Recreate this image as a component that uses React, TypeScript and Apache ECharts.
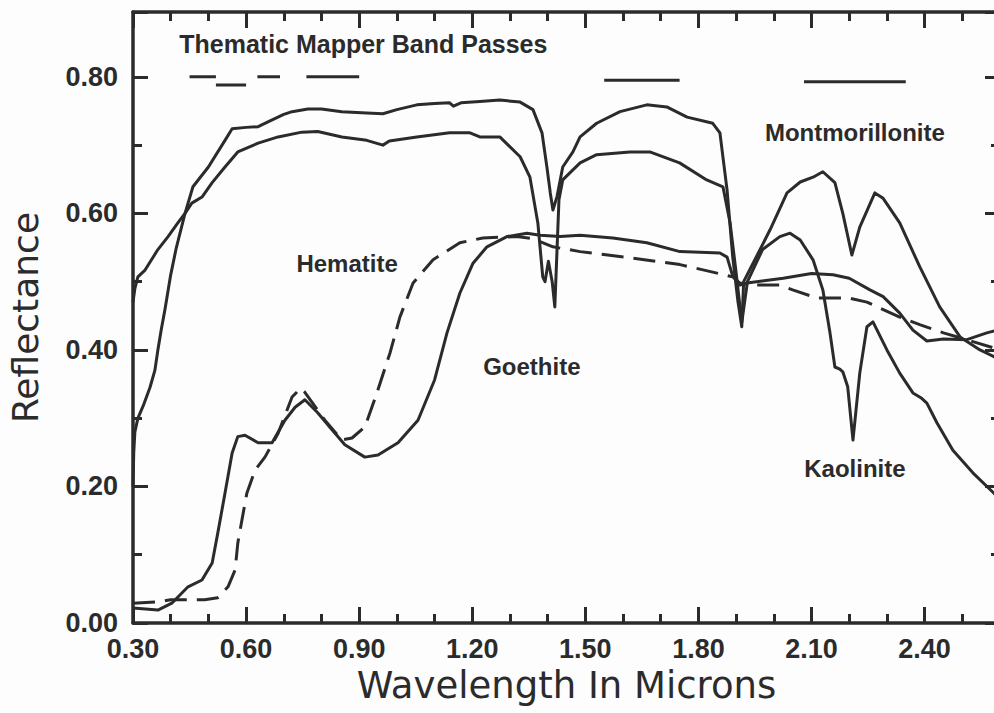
import React, { useEffect, useRef } from 'react';
import * as echarts from 'echarts';

// ---- data (wavelength in microns, reflectance) ----
const montX = [0.30, 0.302, 0.305, 0.313, 0.327, 0.345, 0.358, 0.366, 0.375, 0.385, 0.40, 0.415, 0.438, 0.459, 0.50, 0.544, 0.563, 0.60, 0.632, 0.658, 0.70, 0.722, 0.764, 0.80, 0.854, 0.92, 0.963, 1.00, 1.053, 1.10, 1.14, 1.15, 1.17, 1.22, 1.273, 1.327, 1.361, 1.385, 1.398, 1.407, 1.414, 1.425, 1.44, 1.467, 1.486, 1.53, 1.592, 1.663, 1.716, 1.77, 1.838, 1.857, 1.876, 1.891, 1.905, 1.915, 1.92, 1.945, 1.99, 2.035, 2.07, 2.104, 2.13, 2.162, 2.183, 2.207, 2.228, 2.268, 2.29, 2.334, 2.387, 2.44, 2.494, 2.547, 2.584, 2.60];
const montY = [0.20, 0.25, 0.28, 0.30, 0.318, 0.345, 0.37, 0.40, 0.43, 0.46, 0.51, 0.55, 0.60, 0.639, 0.668, 0.707, 0.724, 0.726, 0.727, 0.734, 0.745, 0.749, 0.753, 0.753, 0.749, 0.747, 0.746, 0.752, 0.759, 0.761, 0.762, 0.757, 0.762, 0.764, 0.766, 0.763, 0.752, 0.718, 0.668, 0.63, 0.605, 0.625, 0.668, 0.69, 0.712, 0.732, 0.749, 0.759, 0.756, 0.741, 0.732, 0.718, 0.634, 0.536, 0.47, 0.434, 0.50, 0.527, 0.576, 0.63, 0.646, 0.653, 0.661, 0.645, 0.60, 0.539, 0.58, 0.63, 0.622, 0.586, 0.522, 0.463, 0.419, 0.40, 0.39, 0.385];

const kaolX = [0.30, 0.305, 0.313, 0.332, 0.366, 0.393, 0.419, 0.438, 0.456, 0.483, 0.51, 0.544, 0.578, 0.632, 0.685, 0.748, 0.79, 0.854, 0.92, 0.963, 0.98, 1.053, 1.14, 1.194, 1.22, 1.273, 1.327, 1.353, 1.374, 1.387, 1.393, 1.402, 1.412, 1.419, 1.43, 1.44, 1.486, 1.53, 1.618, 1.671, 1.75, 1.822, 1.865, 1.884, 1.90, 1.915, 1.93, 1.97, 2.016, 2.043, 2.07, 2.104, 2.13, 2.149, 2.162, 2.175, 2.183, 2.196, 2.21, 2.228, 2.247, 2.263, 2.30, 2.334, 2.369, 2.39, 2.406, 2.433, 2.475, 2.528, 2.584, 2.60];
const kaolY = [0.47, 0.49, 0.507, 0.517, 0.547, 0.566, 0.586, 0.60, 0.615, 0.624, 0.645, 0.668, 0.69, 0.703, 0.712, 0.719, 0.72, 0.712, 0.707, 0.70, 0.706, 0.712, 0.718, 0.718, 0.712, 0.712, 0.683, 0.653, 0.586, 0.507, 0.50, 0.53, 0.50, 0.463, 0.62, 0.649, 0.674, 0.686, 0.69, 0.69, 0.674, 0.649, 0.639, 0.586, 0.513, 0.44, 0.50, 0.547, 0.566, 0.571, 0.561, 0.532, 0.488, 0.425, 0.375, 0.372, 0.368, 0.346, 0.268, 0.366, 0.434, 0.441, 0.40, 0.366, 0.337, 0.33, 0.322, 0.293, 0.253, 0.22, 0.19, 0.18];

const goetX = [0.30, 0.366, 0.403, 0.446, 0.483, 0.51, 0.525, 0.544, 0.563, 0.578, 0.597, 0.632, 0.669, 0.703, 0.73, 0.756, 0.79, 0.828, 0.862, 0.915, 0.95, 1.003, 1.056, 1.10, 1.133, 1.167, 1.202, 1.239, 1.292, 1.345, 1.38, 1.433, 1.486, 1.573, 1.663, 1.751, 1.857, 1.876, 1.89, 1.91, 1.929, 2.025, 2.10, 2.157, 2.20, 2.255, 2.29, 2.334, 2.369, 2.406, 2.45, 2.512, 2.565, 2.60];
const goetY = [0.022, 0.019, 0.029, 0.053, 0.063, 0.088, 0.132, 0.19, 0.249, 0.273, 0.275, 0.264, 0.264, 0.297, 0.316, 0.327, 0.308, 0.283, 0.261, 0.243, 0.246, 0.264, 0.297, 0.356, 0.425, 0.483, 0.527, 0.551, 0.566, 0.571, 0.568, 0.566, 0.568, 0.564, 0.557, 0.544, 0.542, 0.536, 0.51, 0.495, 0.498, 0.505, 0.512, 0.51, 0.505, 0.488, 0.478, 0.454, 0.429, 0.413, 0.416, 0.415, 0.425, 0.43];

const hemaX = [0.30, 0.366, 0.40, 0.49, 0.525, 0.552, 0.571, 0.578, 0.589, 0.602, 0.624, 0.65, 0.685, 0.722, 0.745, 0.756, 0.809, 0.854, 0.881, 0.915, 0.947, 0.982, 1.008, 1.043, 1.096, 1.167, 1.228, 1.318, 1.361, 1.414, 1.486, 1.618, 1.751, 1.838, 1.891, 1.91, 1.944, 2.016, 2.05, 2.114, 2.20, 2.247, 2.334, 2.387, 2.45, 2.512, 2.60];
const hemaY = [0.029, 0.031, 0.034, 0.034, 0.037, 0.053, 0.078, 0.117, 0.151, 0.19, 0.224, 0.243, 0.278, 0.331, 0.344, 0.338, 0.297, 0.268, 0.271, 0.287, 0.337, 0.396, 0.448, 0.498, 0.532, 0.557, 0.564, 0.566, 0.563, 0.551, 0.544, 0.535, 0.525, 0.514, 0.507, 0.498, 0.495, 0.495, 0.488, 0.476, 0.476, 0.47, 0.448, 0.437, 0.425, 0.415, 0.40];

// Thematic Mapper band passes
const bandStart = [0.45, 0.52, 0.63, 0.76, 1.55, 2.08];
const bandEnd = [0.52, 0.60, 0.69, 0.90, 1.75, 2.35];
const bandLevel = [0.80, 0.788, 0.80, 0.80, 0.795, 0.793];

// tick labels
const xTickLabels = ['0.30', '0.60', '0.90', '1.20', '1.50', '1.80', '2.10', '2.40'];
const yTickLabels = ['0.00', '0.20', '0.40', '0.60', '0.80'];

// annotations
const labelNames = ['Thematic Mapper Band Passes', 'Hematite', 'Goethite', 'Montmorillonite', 'Kaolinite'];
const labelX = [0.911, 0.868, 1.358, 2.215, 2.215];
const labelY = [0.848, 0.526, 0.375, 0.718, 0.226];

const X_MIN = 0.3, X_MAX = 2.6, Y_MIN = 0, Y_MAX = 0.895;
const INK = '#2b2b2b';
const BOLD_FONT = "'Liberation Sans', Arial, Helvetica, sans-serif";
const NAME_FONT = "'DejaVu Sans', 'Liberation Sans', sans-serif";

const zip = (xs: number[], ys: number[]) => xs.map((x, i) => [x, ys[i]]);

function xLabel(v: number) {
  const k = (v - 0.3) / 0.3;
  const i = Math.round(k);
  return Math.abs(k - i) < 1e-6 && xTickLabels[i] ? xTickLabels[i] : '';
}
function yLabel(v: number) {
  const k = v / 0.2;
  const i = Math.round(k);
  return Math.abs(k - i) < 1e-6 && yTickLabels[i] ? yTickLabels[i] : '';
}

function makeX(position: string, interval: number, tickLen: number, main: boolean, line: boolean) {
  return {
    type: 'value', gridIndex: 0, position, min: X_MIN, max: X_MAX, interval,
    name: main ? 'Wavelength In Microns' : '',
    nameLocation: 'middle', nameGap: 44, nameMoveOverlap: false,
    nameTextStyle: { fontFamily: NAME_FONT, fontSize: 37, color: INK },
    axisLine: { show: line, onZero: false, lineStyle: { color: INK, width: 3.5 } },
    axisTick: { show: true, inside: true, length: tickLen, lineStyle: { color: INK, width: 3 } },
    minorTick: { show: false }, splitLine: { show: false },
    axisLabel: {
      show: main, formatter: xLabel, margin: 12, fontFamily: BOLD_FONT, fontWeight: 'bold',
      fontSize: 27, color: INK, showMinLabel: true, showMaxLabel: true, hideOverlap: false,
    },
  };
}
function makeY(position: string, interval: number, tickLen: number, main: boolean, line: boolean) {
  return {
    type: 'value', gridIndex: 0, position, min: Y_MIN, max: Y_MAX, interval,
    name: main ? 'Reflectance' : '',
    nameLocation: 'middle', nameGap: 90, nameMoveOverlap: false,
    nameTextStyle: { fontFamily: NAME_FONT, fontSize: 36, color: INK },
    axisLine: { show: line, onZero: false, lineStyle: { color: INK, width: 3.5 } },
    axisTick: { show: true, inside: true, length: tickLen, lineStyle: { color: INK, width: 3 } },
    minorTick: { show: false }, splitLine: { show: false },
    axisLabel: {
      show: main, formatter: yLabel, margin: 15, fontFamily: BOLD_FONT, fontWeight: 'bold',
      fontSize: 27, color: INK, showMinLabel: true, showMaxLabel: true, hideOverlap: false,
    },
  };
}

export default function App() {
  const ref = useRef<HTMLDivElement>(null);
  useEffect(() => {
    if (!ref.current) return;
    const chart = echarts.init(ref.current, null, { renderer: 'svg' });
    const curve = (name: string, xs: number[], ys: number[], type: any) => ({
      name, type: 'line', xAxisIndex: 0, yAxisIndex: 0, data: zip(xs, ys),
      showSymbol: false, symbol: 'none', silent: true,
      lineStyle: { color: INK, width: 3, type, cap: 'butt', join: 'round' },
    });
    const bands = bandStart.map((s, i) => ({
      name: 'band' + i, type: 'line', xAxisIndex: 0, yAxisIndex: 0,
      data: [[s, bandLevel[i]], [bandEnd[i], bandLevel[i]]],
      showSymbol: false, symbol: 'none', silent: true,
      lineStyle: { color: INK, width: 3 },
    }));
    chart.setOption({
      animation: false,
      backgroundColor: '#fdfdfd',
      grid: { left: 133, top: 12, right: 10, bottom: 90, containLabel: false, outerBoundsMode: 'none' },
      xAxis: [
        makeX('bottom', 0.3, 16, true, true),
        makeX('bottom', 0.1, 9, false, false),
        makeX('top', 0.3, 16, false, true),
        makeX('top', 0.1, 9, false, false),
      ],
      yAxis: [
        makeY('left', 0.2, 15, true, true),
        makeY('left', 0.1, 9, false, false),
        makeY('right', 0.2, 15, false, true),
        makeY('right', 0.1, 9, false, false),
      ],
      series: [
        curve('Montmorillonite', montX, montY, 'solid'),
        curve('Kaolinite', kaolX, kaolY, 'solid'),
        curve('Goethite', goetX, goetY, 'solid'),
        curve('Hematite', hemaX, hemaY, [22, 10]),
        ...bands,
        {
          name: 'labels', type: 'scatter', xAxisIndex: 0, yAxisIndex: 0, silent: true,
          symbolSize: 1, itemStyle: { color: INK, opacity: 0 },
          label: {
            show: true, position: 'inside', formatter: '{b}', color: INK, opacity: 1,
            textBorderWidth: 0, textBorderColor: 'transparent',
            fontFamily: BOLD_FONT, fontWeight: 'bold', fontSize: 24,
          },
          data: labelNames.map((n, i) => ({
            name: n, value: [labelX[i], labelY[i]],
            label: { fontSize: i === 0 ? 25 : 24, color: INK },
          })),
        },
      ],
    });
    return () => chart.dispose();
  }, []);
  return (
    <div style={{ position: 'fixed', left: 0, top: 0, width: 994, height: 713, overflow: 'hidden', background: '#fdfdfd' }}>
      <div ref={ref} style={{ width: 1010, height: 713 }} />
    </div>
  );
}
